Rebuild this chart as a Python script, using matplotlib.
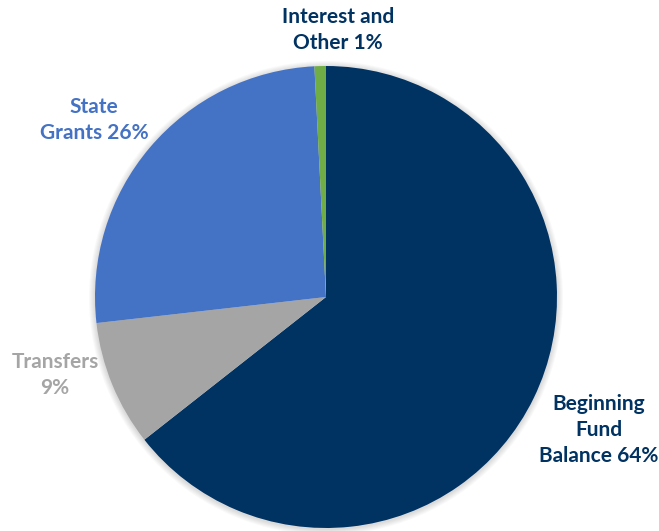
import matplotlib.pyplot as plt
from matplotlib.patches import Circle

labels = ["Beginning\nFund\nBalance", "Transfers\n", "State\nGrants", "Interest and\nOther"]
shares = [64.4, 8.8, 26.0, 0.8]
colors = ["#003262", "#A5A5A5", "#4472C4", "#70AD47"]
text_colors = ["#003262", "#A5A5A5", "#4472C4", "#003262"]

W, H = 659, 531
fig = plt.figure(figsize=(W / 100, H / 100), dpi=100)
ax = fig.add_axes([0, 0, 1, 1])

cx, cy, r = 326, H - 297, 231

# faint soft shadow around the pie
for i in range(6):
    ax.add_patch(Circle((cx, cy - 1), r + 1 + i, color="black", alpha=0.025, lw=0, zorder=0))

ax.pie(shares, colors=colors, startangle=90, counterclock=False,
       center=(cx, cy), radius=r, frame=True,
       wedgeprops=dict(linewidth=0, zorder=1))
ax.set_xlim(0, W)
ax.set_ylim(0, H)
ax.set_aspect("equal")
ax.axis("off")

# label positions (pixel coords, y from top)
label_pos = [(599, 430), (55, 375), (94, 120), (338, 30)]
for lab, s, col, (x, y) in zip(labels, shares, text_colors, label_pos):
    sep = "" if lab.endswith("\n") else " "
    txt = f"{lab}{sep}{round(s):d}%"
    ax.text(x, H - y, txt, ha="center", va="center", color=col,
            fontsize=15, fontweight="bold", family="Lato", linespacing=1.35)

plt.savefig("out.png", dpi=100)
